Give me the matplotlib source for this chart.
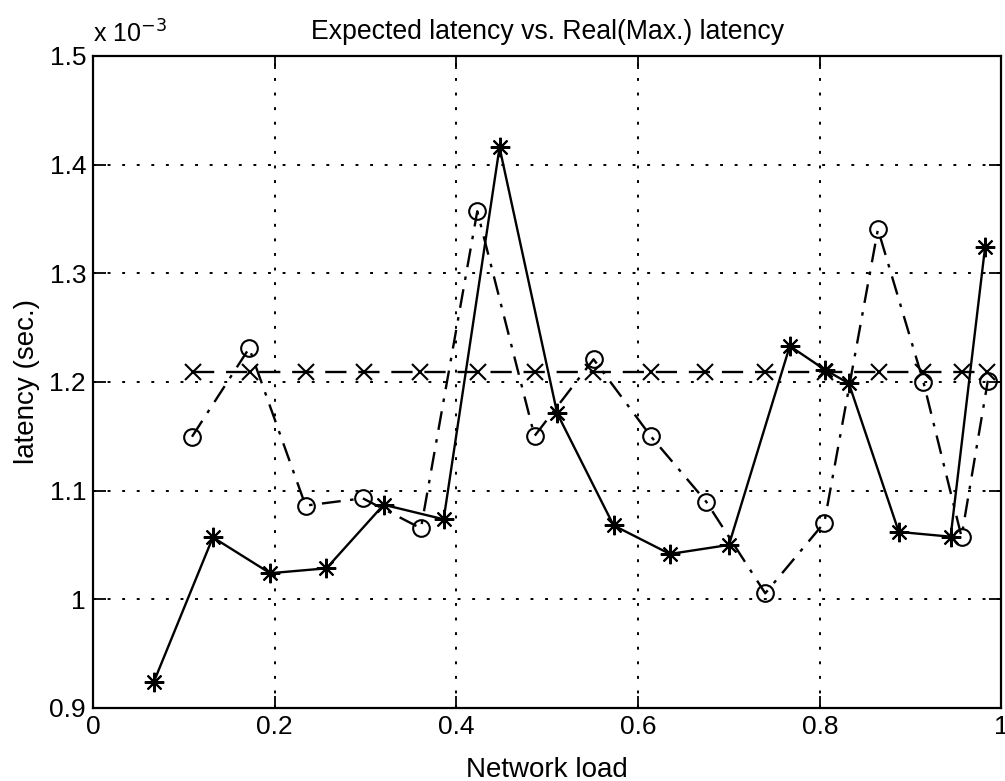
import matplotlib.pyplot as plt

plt.rcParams["font.family"] = ["Liberation Sans", "DejaVu Sans"]

# Real (max.) latency, solid line with asterisks
real_load = [0.067, 0.132, 0.195, 0.257, 0.320, 0.386, 0.4475, 0.511, 0.573,
             0.635, 0.700, 0.767, 0.806, 0.832, 0.887, 0.944, 0.982]
real_latency = [0.924, 1.057, 1.024, 1.0285, 1.087, 1.0736, 1.4158, 1.171, 1.068,
                1.0417, 1.050, 1.233, 1.211, 1.1987, 1.062, 1.0576, 1.3244]

# Expected latency, dashed line with x markers
exp_load = [0.110, 0.173, 0.235, 0.298, 0.360, 0.424, 0.487, 0.550,
            0.614, 0.674, 0.740, 0.806, 0.865, 0.914, 0.957, 0.984]
exp_latency = [1.209] * 16

# Second measured run, dash-dot line with circles
circ_load = [0.109, 0.172, 0.234, 0.297, 0.361, 0.423, 0.486, 0.551,
             0.614, 0.675, 0.740, 0.805, 0.864, 0.914, 0.956, 0.985]
circ_latency = [1.1496, 1.2311, 1.0862, 1.0929, 1.0653, 1.357, 1.1502, 1.2208,
                1.150, 1.0898, 1.0055, 1.0705, 1.3404, 1.2002, 1.0576, 1.2011]

fig = plt.figure(figsize=(10.05, 7.81), dpi=100)
ax = fig.add_axes([0.0925, 0.0935, 0.904, 0.835])

ax.plot(real_load, real_latency, color="black", linestyle="-", linewidth=1.7,
        marker=(8, 2, 0), markersize=14, markeredgewidth=1.5)
ax.plot(exp_load, exp_latency, color="black", linestyle=(0, (9, 5)), linewidth=1.7,
        marker="x", markersize=12, markeredgewidth=1.5)
ax.plot(circ_load, circ_latency, color="black", linestyle=(0, (8, 4, 1.5, 4)),
        linewidth=1.7, marker="o", markersize=12, markerfacecolor="none",
        markeredgewidth=1.5)

ax.set_xlim(0, 1)
ax.set_ylim(0.9, 1.5)
ax.set_xticks([0, 0.2, 0.4, 0.6, 0.8, 1])
ax.set_xticklabels(["0", "0.2", "0.4", "0.6", "0.8", "1"])
ax.set_yticks([0.9, 1.0, 1.1, 1.2, 1.3, 1.4, 1.5])
ax.set_yticklabels(["0.9", "1", "1.1", "1.2", "1.3", "1.4", "1.5"])
ax.grid(True, color="black", linestyle=(0, (1.5, 6)), linewidth=1.4)
ax.tick_params(direction="in", length=9, width=1.3, top=True, right=True,
               labelsize=19, pad=5)
for s in ax.spines.values():
    s.set_linewidth(1.6)

ax.set_title("Expected latency vs. Real(Max.) latency", fontsize=19.2, pad=12)
ax.set_xlabel("Network load", fontsize=20)
ax.set_ylabel("latency (sec.)", fontsize=20)
ax.xaxis.set_label_coords(0.5, -0.075)
ax.yaxis.set_label_coords(-0.058, 0.5)
ax.text(0.0, 1.012, r"x 10$^{-3}$", transform=ax.transAxes, fontsize=18,
        ha="left", va="bottom")

fig.savefig("out.png", dpi=100)
